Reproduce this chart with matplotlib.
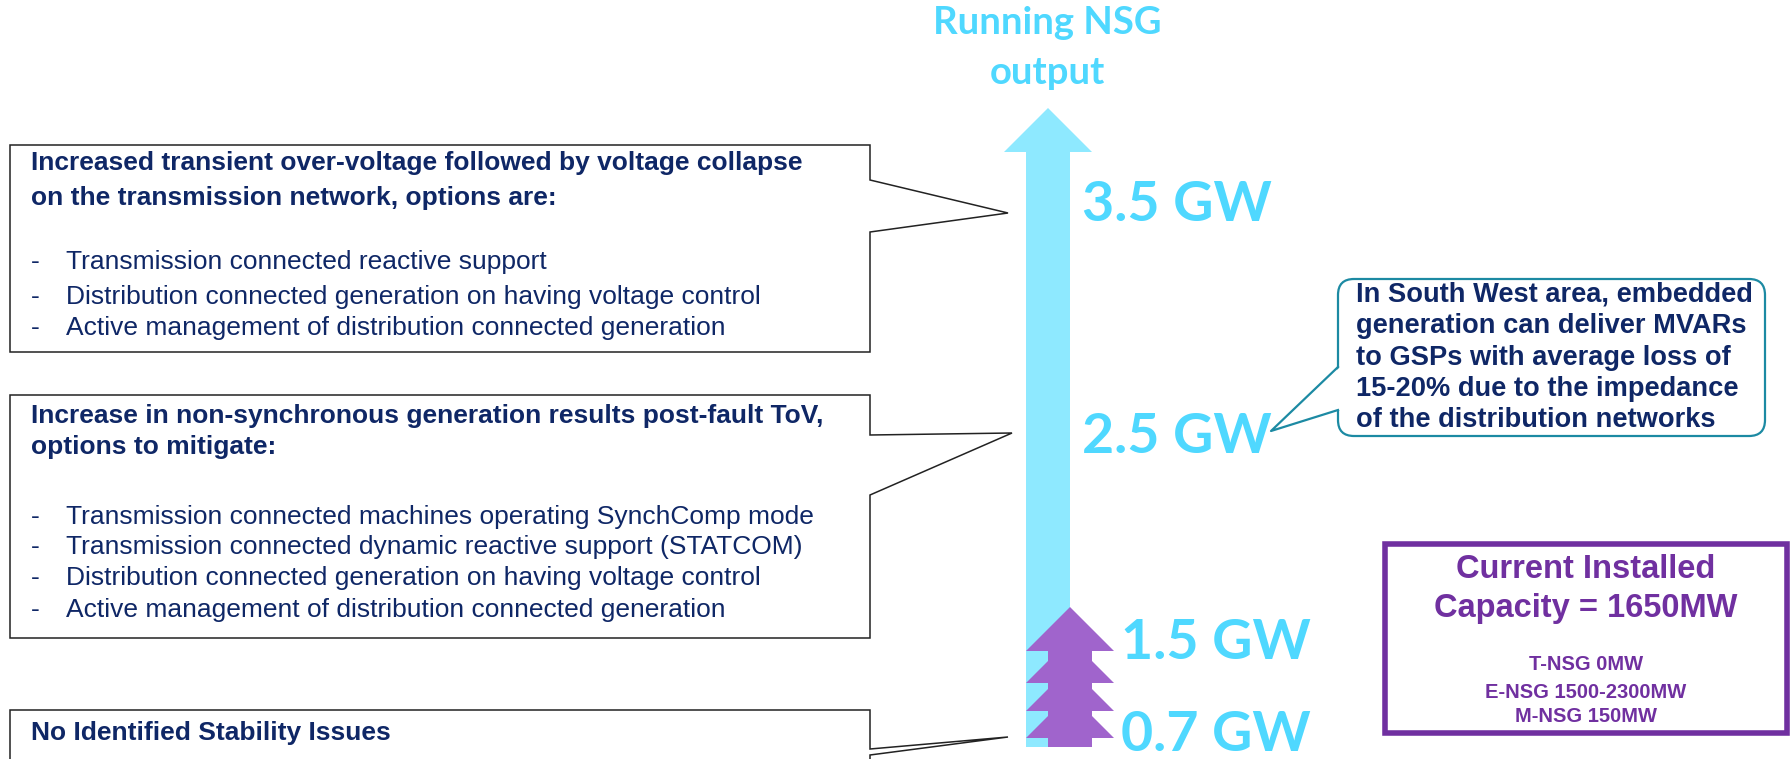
"""Running NSG output vs stability issues diagram."""

import matplotlib
matplotlib.use("Agg")
import matplotlib.pyplot as plt
from matplotlib.patches import Polygon, FancyBboxPatch

W, H = 1791, 759
DPI = 100

# Colours
CYAN_ARROW = "#8EE9FF"
CYAN_TEXT = "#4FD8FF"
PURPLE = "#A064CC"
BOX_PURPLE = "#7030A0"
NAVY = "#0F2766"
TEAL = "#1C8AA3"

# Content
TITLE_LINES = ["Running NSG", "output"]
GW_LEVELS = [3.5, 2.5, 1.5, 0.7]
GW_LABEL_Y = [205, 437, 643, 735]

BOX_HEADINGS = [
    ["Increased transient over-voltage followed by voltage collapse",
     "on the transmission network, options are:"],
    ["Increase in non-synchronous generation results post-fault ToV,",
     "options to mitigate:"],
    ["No Identified Stability Issues"],
]
BOX_BULLETS = [
    ["Transmission connected reactive support",
     "Distribution connected generation on having voltage control",
     "Active management of distribution connected generation"],
    ["Transmission connected machines operating SynchComp mode",
     "Transmission connected dynamic reactive support (STATCOM)",
     "Distribution connected generation on having voltage control",
     "Active management of distribution connected generation"],
    [],
]

SW_NOTE = ["In South West area, embedded",
           "generation can deliver MVARs",
           "to GSPs with average loss of",
           "15-20% due to the impedance",
           "of the distribution networks"]

CAPACITY_TITLE = ["Current Installed", "Capacity = 1650MW"]
CAPACITY_SPLIT = ["T-NSG 0MW", "E-NSG 1500-2300MW", "M-NSG 150MW"]

# Layout (pixels, y downwards)
BOX_LEFT, BOX_RIGHT = 10, 870
BOX_TOP = [145, 395, 710]
BOX_BOTTOM = [352, 638, 775]
POINTER = [(180, 1008, 213, 232), (435, 1012, 433, 495), (749, 1008, 737, 755)]
HEAD_Y = [[163, 198], [416, 447], [733]]
BULLET_Y = [[262, 297, 328], [517, 547, 578, 610], []]

fig = plt.figure(figsize=(W / DPI, H / DPI), dpi=DPI)
ax = fig.add_axes([0, 0, 1, 1])
ax.set_xlim(0, W)
ax.set_ylim(H, 0)
ax.axis("off")

sans = "Liberation Sans"
disp = "Lato"

# --- main cyan arrow
shaft_l, shaft_r, head_l, head_r = 1026, 1070, 1004, 1092
tip_y, head_base_y, bottom_y = 108, 152, 747
cx = (head_l + head_r) / 2
arrow = [(cx, tip_y), (head_r, head_base_y), (shaft_r, head_base_y), (shaft_r, bottom_y),
         (shaft_l, bottom_y), (shaft_l, head_base_y), (head_l, head_base_y)]
ax.add_patch(Polygon(arrow, closed=True, fc=CYAN_ARROW, ec="none", zorder=2))

# --- purple stacked tree
tx = 1070
half, trunk = 44, 22
pts_r = [(tx, 607), (tx + half, 651), (tx + trunk, 651)]
for base in [683, 711, 738]:
    pts_r += [(tx + trunk, base - 22), (tx + half, base), (tx + trunk, base)]
pts_r.append((tx + trunk, bottom_y))
pts_l = [(2 * tx - x, y) for x, y in reversed(pts_r[1:])]
ax.add_patch(Polygon(pts_r + pts_l, closed=True, fc=PURPLE, ec="none", zorder=3))

# --- title
for txt, y in zip(TITLE_LINES, [23, 73]):
    ax.text(1047, y, txt, color=CYAN_TEXT, fontsize=27.5, fontweight="bold",
            family=disp, ha="center", va="center")

# --- GW labels
for lev, y in zip(GW_LEVELS, GW_LABEL_Y):
    x = 1082 if lev > 2 else 1121
    ax.text(x, y, f"{lev} GW", color=CYAN_TEXT, fontsize=40, fontweight="bold",
            family=disp, ha="left", va="center", zorder=4)

# --- left callout boxes
for i in range(3):
    top, bot = BOX_TOP[i], BOX_BOTTOM[i]
    p1, tipx, tipy, p2 = POINTER[i]
    poly = [(BOX_LEFT, top), (BOX_RIGHT, top), (BOX_RIGHT, p1), (tipx, tipy),
            (BOX_RIGHT, p2), (BOX_RIGHT, bot), (BOX_LEFT, bot)]
    ax.add_patch(Polygon(poly, closed=True, fc="white", ec="#222222", lw=1.1, zorder=1))
    for txt, y in zip(BOX_HEADINGS[i], HEAD_Y[i]):
        ax.text(31, y, txt, color=NAVY, fontsize=19, fontweight="bold", family=sans,
                ha="left", va="center")
    for txt, y in zip(BOX_BULLETS[i], BULLET_Y[i]):
        ax.text(31, y, "-", color=NAVY, fontsize=19, family=sans, ha="left", va="center")
        ax.text(66, y, txt, color=NAVY, fontsize=19, family=sans, ha="left", va="center")

# --- South West rounded callout
rx0, ry0, rx1, ry1 = 1338, 279, 1765, 436
ax.add_patch(FancyBboxPatch((rx0, ry0), rx1 - rx0, ry1 - ry0,
                            boxstyle="round,pad=0,rounding_size=16",
                            fc="white", ec=TEAL, lw=1.6, zorder=2))
ax.add_patch(Polygon([(rx0 + 2, 367), (1271, 431), (rx0 + 2, 410)], closed=True,
                     fc="white", ec="none", zorder=3))
ax.plot([rx0, 1271, rx0], [367, 431, 410], color=TEAL, lw=1.6, zorder=4)
for txt, y in zip(SW_NOTE, [295, 326, 358, 389, 420]):
    ax.text(1356, y, txt, color=NAVY, fontsize=19.6, fontweight="bold", family=sans,
            ha="left", va="center", zorder=5)

# --- capacity box
ax.add_patch(plt.Rectangle((1385, 544), 1787 - 1385, 733 - 544, fc="white",
                           ec=BOX_PURPLE, lw=4, zorder=2))
for txt, y in zip(CAPACITY_TITLE, [570, 609]):
    ax.text(1586, y, txt, color=BOX_PURPLE, fontsize=23.5, fontweight="bold",
            family=sans, ha="center", va="center", zorder=3)
for txt, y in zip(CAPACITY_SPLIT, [665, 692, 717]):
    ax.text(1586, y, txt, color=BOX_PURPLE, fontsize=14.5, fontweight="bold",
            family=sans, ha="center", va="center", zorder=3)

fig.savefig("out.png", dpi=DPI)
